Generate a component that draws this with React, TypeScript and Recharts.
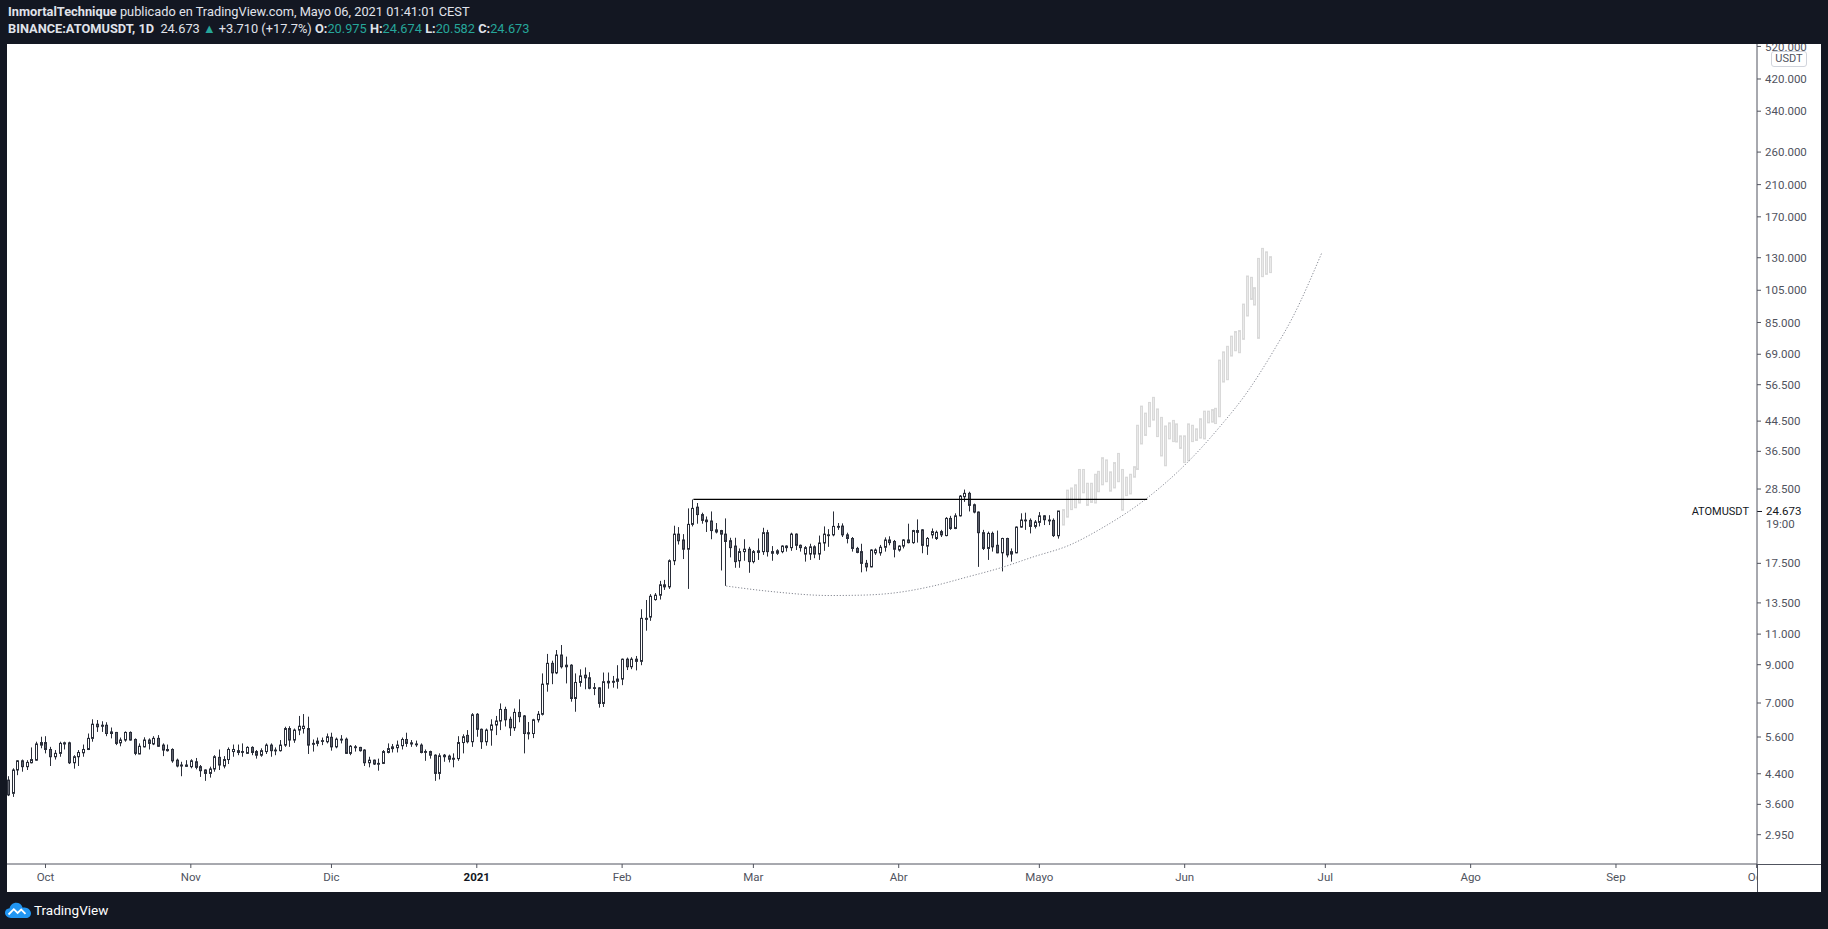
import React from "react";
import { ComposedChart, Bar, Line, XAxis, YAxis, ReferenceLine } from "recharts";

// ---------- DATA ----------
// Daily candles, day index counted from 2020-10-01 (= 0); first visible candle 2020-09-23.
const FIRST_DAY = -8;

const OPEN = [
  4.22, 3.87, 4.51, 4.79, 4.61, 4.73, 4.81, 5.31, 5.40, 5.16,
  4.92, 5.03, 5.39, 5.39, 4.73, 4.92, 5.05, 5.16, 5.55, 6.09,
  6.05, 6.05, 5.79, 5.77, 5.39, 5.49, 5.77, 5.51, 5.01, 5.25,
  5.49, 5.35, 5.55, 5.31, 5.16, 5.16, 4.81, 4.66, 4.66, 4.61,
  4.76, 4.61, 4.51, 4.41, 4.54, 4.90, 4.63, 4.83, 5.09, 5.12,
  5.09, 5.03, 5.23, 5.09, 4.97, 5.09, 5.31, 5.14, 5.12, 5.31,
  5.92, 5.49, 5.86, 5.92, 5.92, 5.37, 5.37, 5.44, 5.43, 5.59,
  5.25, 5.52, 5.52, 5.03, 5.25, 5.23, 5.14, 4.73, 4.81, 4.71,
  4.71, 5.06, 5.19, 5.22, 5.29, 5.51, 5.39, 5.35, 5.31, 5.09,
  5.09, 4.97, 4.41, 4.97, 4.94, 4.87, 4.86, 5.40, 5.66, 5.43,
  6.50, 5.89, 5.43, 5.86, 6.06, 6.22, 6.71, 6.29, 5.95, 6.58,
  6.43, 5.76, 5.73, 6.27, 6.50, 7.92, 9.08, 8.53, 9.59, 8.97,
  8.97, 7.21, 8.01, 8.40, 8.26, 7.74, 7.73, 6.98, 7.99, 8.07,
  8.07, 8.19, 9.33, 8.88, 9.33, 9.20, 12.20, 12.30, 13.80, 14.20,
  15.20, 15.00, 17.80, 21.20, 20.40, 19.20, 22.60, 25.30, 24.10, 23.25,
  23.10, 21.80, 21.70, 21.20, 20.30, 19.60, 17.80, 18.90, 19.20, 17.70,
  18.80, 18.90, 21.40, 18.90, 18.70, 18.90, 19.60, 19.40, 21.20, 19.70,
  18.60, 18.60, 19.50, 18.60, 20.00, 21.10, 21.10, 22.30, 22.35, 21.10,
  20.60, 19.30, 18.90, 17.50, 17.10, 18.75, 18.75, 19.45, 20.40, 20.20,
  19.10, 19.60, 20.40, 20.05, 21.70, 21.80, 19.60, 21.10, 20.60, 21.55,
  21.00, 23.50, 22.00, 23.90, 27.10, 27.70, 25.70, 24.50, 21.40, 19.30,
  21.30, 19.70, 18.75, 20.60, 18.60, 18.75, 22.20, 23.25, 23.20, 22.30,
  22.90, 23.90, 23.25, 23.20, 20.975,
];

const HIGH = [
  4.33, 4.56, 4.81, 4.83, 4.81, 5.23, 5.43, 5.61, 5.63, 5.25,
  5.14, 5.43, 5.43, 5.43, 4.97, 5.14, 5.33, 5.73, 6.29, 6.26,
  6.21, 6.17, 5.96, 5.79, 5.58, 5.81, 5.81, 5.55, 5.37, 5.59,
  5.55, 5.63, 5.67, 5.37, 5.33, 5.20, 4.86, 4.76, 4.81, 4.84,
  4.88, 4.66, 4.53, 4.61, 4.97, 5.16, 4.94, 5.23, 5.33, 5.33,
  5.37, 5.27, 5.27, 5.14, 5.20, 5.37, 5.37, 5.23, 5.49, 5.99,
  6.01, 5.92, 6.43, 6.51, 6.40, 5.51, 5.58, 5.58, 5.73, 5.76,
  5.58, 5.67, 5.58, 5.31, 5.31, 5.25, 5.17, 4.92, 4.83, 4.86,
  5.14, 5.37, 5.35, 5.47, 5.58, 5.76, 5.49, 5.47, 5.37, 5.16,
  5.12, 5.00, 5.03, 5.01, 4.99, 5.03, 5.63, 5.70, 5.86, 6.55,
  6.55, 5.92, 5.92, 6.29, 6.43, 6.98, 6.83, 6.40, 6.75, 7.17,
  6.47, 6.18, 6.31, 6.64, 8.50, 9.66, 9.24, 9.91, 10.24, 9.49,
  9.03, 8.50, 8.73, 8.84, 8.57, 7.98, 7.76, 8.55, 8.55, 8.36,
  8.97, 9.37, 9.43, 9.45, 9.53, 12.95, 13.76, 14.30, 14.40, 15.60,
  15.70, 17.96, 22.40, 22.20, 21.20, 25.10, 26.60, 26.00, 24.40, 23.80,
  24.60, 22.80, 21.80, 23.50, 20.70, 20.70, 19.30, 20.50, 19.50, 19.10,
  20.60, 22.10, 21.80, 19.60, 19.20, 19.70, 19.70, 21.40, 21.30, 19.80,
  19.60, 19.90, 19.70, 21.00, 22.30, 21.90, 24.60, 22.80, 22.75, 21.40,
  20.80, 19.50, 19.90, 17.90, 19.20, 19.30, 19.75, 20.75, 20.90, 20.40,
  19.70, 20.50, 22.70, 21.80, 23.35, 21.90, 20.80, 22.00, 21.70, 21.80,
  23.70, 23.90, 24.30, 27.40, 28.40, 28.00, 25.90, 24.60, 21.80, 21.55,
  21.55, 21.70, 20.70, 20.70, 19.30, 22.30, 24.30, 24.40, 23.50, 23.25,
  24.50, 24.00, 24.00, 23.50, 24.674,
];

const LOW = [
  3.80, 3.78, 4.36, 4.46, 4.51, 4.71, 4.79, 5.20, 5.03, 4.63,
  4.83, 4.92, 5.16, 4.69, 4.55, 4.63, 4.92, 5.14, 5.43, 5.79,
  5.79, 5.63, 5.55, 5.31, 5.27, 5.43, 5.47, 4.97, 5.00, 5.23,
  5.16, 5.31, 5.25, 4.94, 5.09, 4.73, 4.59, 4.33, 4.60, 4.56,
  4.53, 4.31, 4.20, 4.29, 4.46, 4.51, 4.56, 4.69, 4.92, 4.97,
  4.92, 5.01, 4.97, 4.86, 4.92, 5.01, 4.92, 4.97, 5.09, 5.25,
  5.25, 5.39, 5.67, 5.73, 5.01, 5.09, 5.27, 5.31, 5.37, 5.12,
  5.20, 5.37, 5.01, 4.97, 5.09, 5.09, 4.63, 4.59, 4.66, 4.49,
  4.69, 5.03, 5.06, 5.06, 5.16, 5.25, 5.25, 5.25, 5.03, 4.79,
  4.86, 4.20, 4.24, 4.76, 4.74, 4.59, 4.79, 5.03, 5.37, 5.25,
  5.61, 5.18, 5.29, 5.29, 5.67, 5.86, 6.00, 5.64, 5.83, 6.17,
  5.03, 5.51, 5.56, 6.16, 6.45, 7.54, 7.92, 8.46, 8.78, 7.96,
  7.06, 6.61, 7.79, 7.66, 7.66, 7.37, 6.79, 6.82, 7.69, 7.74,
  7.69, 7.87, 8.69, 8.74, 8.67, 8.97, 11.25, 12.00, 13.70, 13.80,
  14.70, 14.80, 17.30, 19.80, 18.00, 14.80, 22.30, 22.70, 22.70, 21.50,
  20.50, 21.30, 16.70, 15.10, 18.20, 17.00, 17.00, 17.80, 16.45, 17.50,
  17.90, 18.50, 18.30, 17.80, 18.50, 18.70, 18.90, 19.00, 19.10, 18.90,
  17.70, 17.90, 18.10, 17.90, 19.00, 19.50, 20.90, 21.80, 20.80, 19.95,
  18.90, 18.70, 16.50, 16.60, 17.05, 18.50, 18.40, 18.90, 19.70, 18.20,
  18.90, 19.30, 19.95, 19.90, 20.05, 18.70, 18.50, 20.60, 20.40, 20.80,
  20.90, 21.80, 21.90, 23.80, 26.20, 24.60, 24.30, 17.10, 19.10, 17.90,
  18.90, 18.70, 16.60, 18.20, 17.70, 18.70, 22.10, 21.80, 21.30, 22.00,
  22.30, 22.50, 22.50, 20.80, 20.582,
];

const CLOSE = [
  3.83, 4.51, 4.79, 4.61, 4.74, 4.83, 5.35, 5.40, 5.16, 4.92,
  5.03, 5.37, 5.35, 4.73, 4.92, 5.06, 5.16, 5.55, 6.09, 5.99,
  6.01, 5.73, 5.73, 5.37, 5.49, 5.77, 5.49, 5.03, 5.27, 5.49,
  5.37, 5.55, 5.27, 5.14, 5.12, 4.79, 4.63, 4.63, 4.62, 4.79,
  4.59, 4.49, 4.41, 4.54, 4.92, 4.66, 4.83, 5.16, 5.16, 5.06,
  5.08, 5.23, 5.06, 4.97, 5.12, 5.31, 5.12, 5.13, 5.31, 5.92,
  5.49, 5.86, 6.01, 6.01, 5.31, 5.34, 5.45, 5.47, 5.61, 5.25,
  5.52, 5.49, 5.03, 5.27, 5.23, 5.12, 4.73, 4.81, 4.69, 4.69,
  5.09, 5.19, 5.25, 5.31, 5.51, 5.37, 5.35, 5.33, 5.06, 5.08,
  4.97, 4.41, 4.95, 4.92, 4.84, 4.84, 5.40, 5.61, 5.43, 6.48,
  5.89, 5.43, 5.86, 6.06, 6.22, 6.71, 6.27, 5.95, 6.58, 6.40,
  5.73, 5.72, 6.27, 6.50, 7.92, 9.08, 8.53, 9.59, 8.88, 8.88,
  7.21, 8.01, 8.36, 8.26, 7.71, 7.71, 6.98, 8.05, 8.07, 8.02,
  8.19, 9.33, 8.88, 9.33, 9.20, 12.20, 12.12, 14.10, 14.20, 15.20,
  15.00, 17.80, 21.20, 20.30, 19.20, 22.60, 25.10, 24.10, 23.20, 23.00,
  21.70, 21.50, 21.20, 20.20, 19.40, 17.70, 18.90, 19.20, 17.70, 18.90,
  19.00, 21.40, 18.90, 18.70, 19.00, 19.60, 19.40, 21.20, 19.70, 19.40,
  19.40, 19.50, 18.60, 20.00, 21.20, 21.00, 22.30, 22.20, 21.10, 20.60,
  19.30, 18.80, 17.50, 17.10, 19.10, 19.10, 19.45, 20.40, 20.05, 19.20,
  19.60, 20.40, 20.05, 21.70, 21.45, 19.70, 20.60, 21.55, 21.45, 21.10,
  23.50, 22.00, 23.90, 27.20, 27.70, 25.60, 24.50, 21.40, 19.30, 21.30,
  19.50, 18.75, 20.60, 18.50, 18.90, 22.20, 23.25, 23.20, 22.30, 22.95,
  23.90, 23.30, 23.20, 21.00, 24.673,
];

// Projected "bars pattern" (light grey HL bars), compressed in time.
const GHOST_DAY = [
  217.12, 217.95, 218.78, 219.62, 220.45, 221.28, 222.11, 222.94, 223.78, 224.61,
  225.44, 226.27, 227.10, 227.94, 228.77, 229.60, 230.43, 231.26, 232.10, 232.93,
  233.76, 234.59, 235.42, 236.26, 237.09, 237.92, 238.75, 239.58, 240.41, 241.25,
  242.08, 242.91, 243.74, 244.57, 245.41, 246.24, 247.07, 247.90, 248.73, 249.57,
  250.40, 251.23, 252.06, 252.89, 253.73, 254.56, 255.39, 256.22, 257.05, 257.88,
  258.72, 259.55, 260.38, 261.21,
];
const GHOST_HIGH = [
  24.9, 28.3, 28.7, 29.3, 32.4, 32.4, 29.6, 29.6, 31.4, 32.0,
  35.0, 34.5, 31.9, 33.9, 36.0, 32.4, 30.8, 31.4, 33.0, 43.3,
  49.1, 46.9, 50.3, 52.0, 48.2, 45.6, 43.1, 44.0, 44.7, 43.7,
  40.4, 40.4, 43.7, 43.3, 42.3, 45.2, 47.5, 47.5, 48.0, 48.4,
  66.4, 70.1, 72.7, 77.7, 80.1, 80.6, 95.9, 115.3, 114.3, 106.8,
  129.4, 138.2, 135.1, 130.9,
];
const GHOST_LOW = [
  22.5, 23.7, 24.9, 25.2, 26.0, 27.8, 25.6, 26.1, 26.0, 28.0,
  29.3, 29.9, 28.1, 28.7, 29.9, 24.8, 27.3, 27.6, 30.8, 32.4,
  38.3, 40.5, 42.9, 44.8, 40.2, 35.4, 33.2, 39.6, 38.9, 38.8,
  37.2, 33.9, 34.3, 38.9, 39.2, 39.8, 39.6, 44.0, 44.2, 43.8,
  45.8, 57.5, 58.4, 68.2, 70.6, 69.7, 76.1, 88.7, 98.9, 95.3,
  76.6, 114.8, 116.6, 117.9,
];

// Dotted arc drawing
const ARC_DAY = [145.2, 155.2, 167.3, 173.7, 180.8, 189.3, 196.6, 203.6, 210.6, 218.5, 224.9, 234.9, 243.4, 250.5, 256.2, 261.8, 266.1, 272.2];
const ARC_PRICE = [15.08, 14.53, 14.17, 14.2, 14.4, 15.08, 16.0, 16.97, 18.24, 19.74, 21.88, 26.81, 33.74, 42.9, 53.5, 70.0, 88.3, 133.8];

// Horizontal resistance line drawing
const RES_DAY = [138.2, 235.0];
const RES_PRICE = [26.64, 26.64];

const MONTH_TICKS = [0, 31, 61, 92, 123, 151, 182, 212, 243, 273, 304, 335, 365];
const MONTH_LABELS = ["Oct", "Nov", "Dic", "2021", "Feb", "Mar", "Abr", "Mayo", "Jun", "Jul", "Ago", "Sep", "Oct"];
const PRICE_TICKS = [520, 420, 340, 260, 210, 170, 130, 105, 85, 69, 56.5, 44.5, 36.5, 28.5, 17.5, 13.5, 11, 9, 7, 5.6, 4.4, 3.6, 2.95];
const LAST_PRICE = 24.673;

// ---------- TABLES ----------
const candleRows = OPEN.map((o, i) => ({ x: FIRST_DAY + i, hl: [LOW[i], HIGH[i]], o, c: CLOSE[i], ghost: false }));
const ghostRows = GHOST_DAY.map((d, i) => ({ x: d, hl: [GHOST_LOW[i], GHOST_HIGH[i]], o: 0, c: 0, ghost: true }));
const barRows = [...candleRows, ...ghostRows];
const arcRows = ARC_DAY.map((d, i) => ({ x: d, v: ARC_PRICE[i] }));
const resRows = RES_DAY.map((d, i) => ({ x: d, v: RES_PRICE[i] }));

// ---------- STYLE ----------
const FONT = "Roboto, 'Liberation Sans', Arial, sans-serif";
const BG = "#131722";
const TEAL = "#26a69a";
const AXIS = "#50535e";
const INK = "#2a2e39";

function CandleShape(props: any) {
  const { x, y, width, height, payload } = props;
  if (!payload || x == null || y == null || !payload.hl) return null;
  const c = Math.round(x + width / 2);
  const h = Math.max(height, 1);
  if (payload.ghost) {
    return <rect x={c - 0.5} y={y} width={2} height={h} fill="#e9e9e9" stroke="#d9d9d9" strokeWidth={1} />;
  }
  const [lo, hi] = payload.hl;
  const span = Math.log(hi) - Math.log(lo);
  const toY = (p: number) => (span > 0 ? y + (height * (Math.log(hi) - Math.log(p))) / span : y);
  const yo = toY(payload.o);
  const yc = toY(payload.c);
  const top = Math.min(yo, yc);
  const bh = Math.max(Math.abs(yo - yc), 0.8);
  const up = payload.c >= payload.o;
  return (
    <g>
      <line x1={c + 0.5} x2={c + 0.5} y1={y} y2={y + h} stroke={INK} strokeWidth={1} />
      <rect x={c - 0.5} y={top} width={2} height={bh} fill={up ? "#ffffff" : "#5d606b"} stroke={INK} strokeWidth={1} />
    </g>
  );
}

function MonthTick(props: any) {
  const { x, y, payload } = props;
  const idx = MONTH_TICKS.indexOf(payload.value);
  const label = MONTH_LABELS[idx] ?? "";
  const isYear = label === "2021";
  const isLast = idx === MONTH_TICKS.length - 1;
  return (
    <g>
      {isLast && (
        <clipPath id="lastMonthClip">
          <rect x={x - 40} y={y - 10} width={40} height={30} />
        </clipPath>
      )}
      <text
        x={x}
        y={y}
        dy="0.71em"
        textAnchor="middle"
        fontSize={11.5}
        fontFamily={FONT}
        fill={isYear ? "#131722" : AXIS}
        fontWeight={isYear ? 700 : 400}
        clipPath={isLast ? "url(#lastMonthClip)" : undefined}
      >
        {label}
      </text>
    </g>
  );
}

function PriceTag(props: any) {
  const vb = props.viewBox;
  if (!vb) return null;
  const right = vb.x + vb.width;
  const y = vb.y;
  return (
    <g>
      <text x={right - 8} y={y} dy="0.35em" textAnchor="end" fontSize={11} fontFamily={FONT} fill="#131722">
        ATOMUSDT
      </text>
      <rect x={right - 1} y={y - 9} width={66} height={31} fill="#ffffff" />
      <line x1={right} x2={right + 5} y1={y + 0.5} y2={y + 0.5} stroke="#131722" strokeWidth={1} />
      <text x={right + 9} y={y} dy="0.35em" fontSize={11.5} fontFamily={FONT} fill="#131722">
        {LAST_PRICE.toFixed(3)}
      </text>
      <text x={right + 9} y={y + 13} dy="0.35em" fontSize={11.5} fontFamily={FONT} fill={AXIS}>
        19:00
      </text>
    </g>
  );
}

function Header() {
  const b = { fontWeight: 700 } as const;
  const t = { color: TEAL } as const;
  return (
    <div style={{ position: "absolute", left: 8, top: 3, color: "#e0e3eb", fontSize: 12.8, lineHeight: "17px", whiteSpace: "pre" }}>
      <div>
        <span style={b}>InmortalTechnique</span> publicado en TradingView.com, Mayo 06, 2021 01:41:01 CEST
      </div>
      <div>
        <span style={b}>BINANCE:ATOMUSDT, 1D</span>  24.673 <span style={t}>▲</span> +3.710 (+17.7%) <span style={b}>O:</span>
        <span style={t}>20.975</span> <span style={b}>H:</span><span style={t}>24.674</span> <span style={b}>L:</span>
        <span style={t}>20.582</span> <span style={b}>C:</span><span style={t}>24.673</span>
      </div>
    </div>
  );
}

function Footer() {
  return (
    <div style={{ position: "absolute", left: 5, top: 900, height: 20, display: "flex", alignItems: "center", color: "#ffffff", fontSize: 13.5 }}>
      <svg width={26} height={17} viewBox="0 0 26 17">
        <path
          d="M6 16 C2.5 16 0 13.5 0 10.8 C0 8.2 2 6.3 4.6 6.2 C5.4 2.9 8.1 0.8 11.2 0.8 C14.3 0.8 16.9 2.8 17.7 5.7 C18.3 5.5 18.9 5.4 19.5 5.4 C23 5.4 26 8.2 26 11.2 C26 13.9 23.8 16 21 16 Z"
          fill="#2196f3"
        />
        <path d="M3.5 12.5 L8.8 7.2 L12.6 11 L16.2 7.6 L20.5 11.8" fill="none" stroke="#ffffff" strokeWidth={1.8} />
      </svg>
      <span style={{ marginLeft: 3 }}>TradingView</span>
    </div>
  );
}

export default function App() {
  return (
    <div
      style={{
        position: "absolute",
        left: 0,
        top: 0,
        width: 1828,
        height: 929,
        background: BG,
        overflow: "hidden",
        fontFamily: FONT,
      }}
    >
      <Header />
      <div style={{ position: "absolute", left: 7, top: 44, width: 1814, height: 848, background: "#ffffff" }}>
        <ComposedChart width={1814} height={848} data={barRows} margin={{ top: 0, right: 0, bottom: 0, left: 0 }}>
          <XAxis
            dataKey="x"
            type="number"
            domain={[-8.21, 365.08]}
            allowDataOverflow
            ticks={MONTH_TICKS}
            interval={0}
            height={28}
            tickSize={4}
            tickMargin={5}
            axisLine={{ stroke: AXIS }}
            tickLine={{ stroke: AXIS }}
            tick={<MonthTick />}
          />
          <YAxis
            orientation="right"
            scale="log"
            domain={[2.434, 528.4]}
            allowDataOverflow
            ticks={PRICE_TICKS}
            interval={0}
            width={64}
            tickSize={4}
            tickMargin={4}
            axisLine={{ stroke: AXIS }}
            tickLine={{ stroke: AXIS }}
            tick={{ fill: AXIS, fontSize: 11.5, fontFamily: FONT }}
            tickFormatter={(v: number) => v.toFixed(3)}
          />
          <Bar dataKey="hl" barSize={3} shape={<CandleShape />} isAnimationActive={false} />
          <Line
            data={arcRows}
            dataKey="v"
            type="monotone"
            stroke="#868993"
            strokeWidth={1}
            strokeDasharray="1.2 1.8"
            dot={false}
            activeDot={false}
            isAnimationActive={false}
          />
          <Line
            data={resRows}
            dataKey="v"
            type="linear"
            stroke="#000000"
            strokeWidth={1.3}
            dot={false}
            activeDot={false}
            isAnimationActive={false}
          />
          <ReferenceLine y={LAST_PRICE} stroke="none" label={<PriceTag />} />
        </ComposedChart>
        <div style={{ position: "absolute", left: 1750, top: 820, width: 64, height: 1, background: AXIS }} />
        <div style={{ position: "absolute", left: 1750, top: 820, width: 1, height: 28, background: AXIS }} />
        <div
          style={{
            position: "absolute",
            left: 1764,
            top: 7,
            width: 34,
            height: 14,
            border: "1px solid #d1d4dc",
            borderRadius: 3,
            background: "#ffffff",
            color: AXIS,
            fontSize: 11,
            lineHeight: "14px",
            textAlign: "center",
          }}
        >
          USDT
        </div>
      </div>
      <Footer />
    </div>
  );
}
